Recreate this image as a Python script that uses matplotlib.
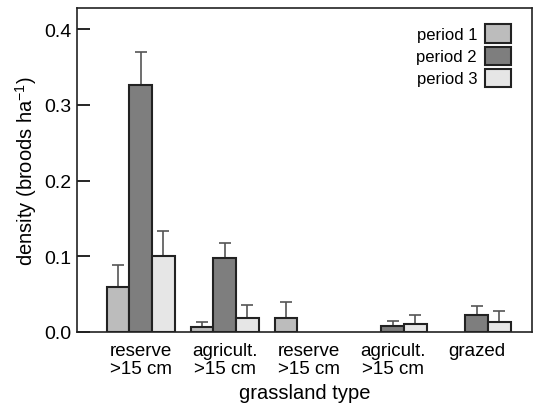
import matplotlib
matplotlib.use("Agg")
import matplotlib.pyplot as plt
import numpy as np

plt.rcParams['font.family'] = ['Liberation Sans', 'DejaVu Sans']
plt.rcParams['mathtext.fontset'] = 'custom'
plt.rcParams['mathtext.rm'] = 'Liberation Sans'
plt.rcParams['mathtext.it'] = 'Liberation Sans'
plt.rcParams['mathtext.default'] = 'regular'

categories = ["reserve\n>15 cm", "agricult.\n>15 cm", "reserve\n>15 cm", "agricult.\n>15 cm", "grazed"]
series_names = ["period 1", "period 2", "period 3"]
period1 = [0.060, 0.007, 0.018, 0.0, 0.0]
period2 = [0.326, 0.097, 0.0, 0.008, 0.023]
period3 = [0.100, 0.019, 0.0, 0.011, 0.013]
err1 = [0.029, 0.006, 0.021, 0.0, 0.0]
err2 = [0.044, 0.021, 0.0, 0.006, 0.011]
err3 = [0.033, 0.017, 0.0, 0.012, 0.014]
yticks = [0.0, 0.1, 0.2, 0.3, 0.4]

colors = ["#bcbcbc", "#7e7e7e", "#e6e6e6"]

fig = plt.figure(figsize=(5.42, 4.06), dpi=100)
ax = fig.add_axes([0.142, 0.18, 0.8395, 0.798])

x = np.arange(len(categories))
w = 0.27
for i, (vals, errs) in enumerate(zip([period1, period2, period3], [err1, err2, err3])):
    pos = x + (i - 1) * w
    vals = np.array(vals)
    errs = np.array(errs)
    mask = vals > 0
    ax.bar(pos[mask], vals[mask], width=w, color=colors[i], edgecolor="#222222",
           linewidth=1.5, label=series_names[i], zorder=2)
    emask = errs > 0
    ax.errorbar(pos[emask], vals[emask], yerr=[np.zeros(emask.sum()), errs[emask]],
                fmt='none', ecolor="#555555", elinewidth=1.2, capsize=4, capthick=1.2, zorder=1)

ax.set_xlim(-0.76, 4.66)
ax.set_ylim(0, 0.428)
ax.set_yticks(yticks)
ax.set_yticklabels([f"{v:.1f}" for v in yticks], fontsize=14)
ax.set_xticks(x)
ax.set_xticklabels(categories, fontsize=13.5, linespacing=1.12)
ax.tick_params(axis='x', length=0, pad=7)
ax.tick_params(axis='y', direction='in', length=9, width=1.2, pad=4)
for s in ax.spines.values():
    s.set_linewidth(1.2)
    s.set_color("#222222")

ax.set_ylabel("density (broods ha$^{-1}$)", fontsize=14.5, labelpad=4)
ax.set_xlabel("grassland type", fontsize=14.5, labelpad=4)

leg = ax.legend(loc="upper right", frameon=False, markerfirst=False, fontsize=12,
                handlelength=1.6, handleheight=1.35, handletextpad=0.45, labelspacing=0.2,
                bbox_to_anchor=(0.98, 0.985), borderaxespad=0.3)

fig.savefig("out.png", dpi=100)
